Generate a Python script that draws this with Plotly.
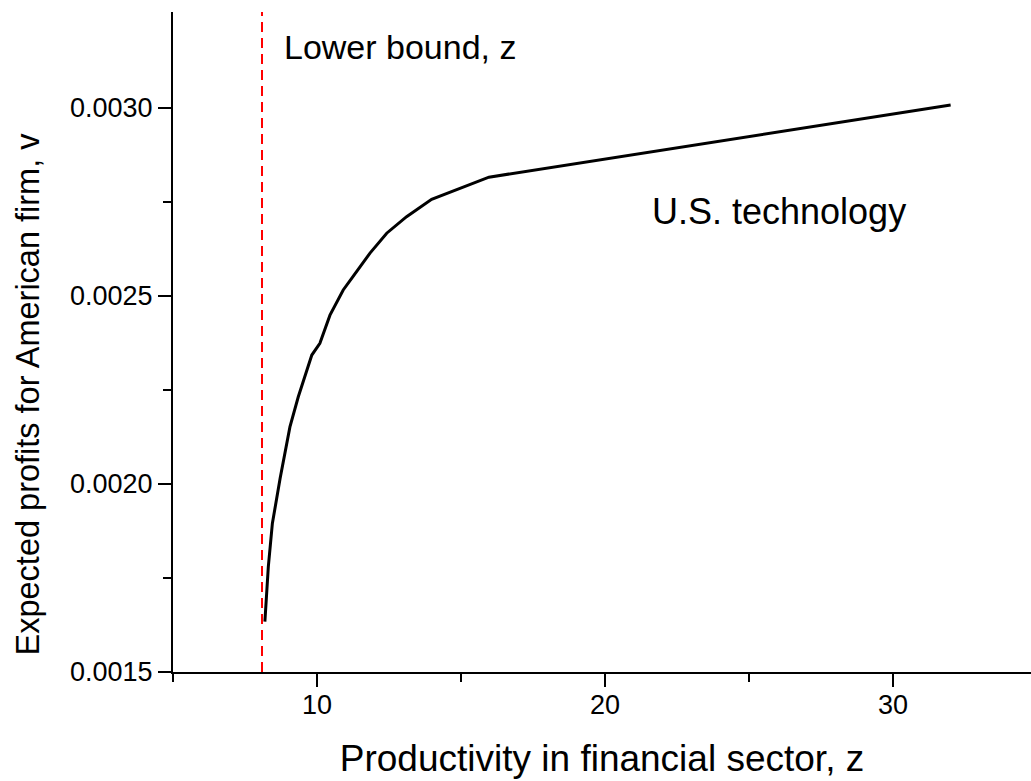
import plotly.graph_objects as go

# Data
z_values = [8.19, 8.31, 8.45, 8.72, 9.06, 9.35, 9.82, 10.10, 10.45, 10.91, 11.26,
            11.84, 12.42, 13.11, 13.98, 15.97, 32.0]
v_values = [0.001634, 0.001780, 0.001895, 0.002015, 0.002152, 0.002232, 0.002343,
            0.002374, 0.002449, 0.002516, 0.002553, 0.002614, 0.002667, 0.002711,
            0.002757, 0.002816, 0.003008]
lower_bound_z = 8.09

x_range = [5, 34.79]
y_range = [0.0015, 0.0032553]
x_tickvals = [10, 20, 30]
x_minor_ticks = [5, 15, 25]
y_tickvals = [0.0015, 0.0020, 0.0025, 0.0030]
y_ticktext = ["0.0015", "0.0020", "0.0025", "0.0030"]
y_minor_ticks = [0.00175, 0.00225, 0.00275]

font_family = "Liberation Sans, Arial, sans-serif"

fig = go.Figure()

fig.add_trace(go.Scatter(
    x=[lower_bound_z, lower_bound_z], y=y_range, mode="lines",
    line=dict(color="#ff0000", width=2, dash="10px,6px"),
    showlegend=False, hoverinfo="skip"))

fig.add_trace(go.Scatter(
    x=z_values, y=v_values, mode="lines",
    line=dict(color="black", width=3),
    showlegend=False))

fig.add_annotation(x=8.79, y=0.003162, text="Lower bound, z", showarrow=False,
                   xanchor="left", yanchor="middle",
                   font=dict(family=font_family, size=34, color="black"))
fig.add_annotation(x=21.55, y=0.002726, text="U.S. technology", showarrow=False,
                   xanchor="left", yanchor="middle",
                   font=dict(family=font_family, size=36, color="black"))

# y-axis title (placed slightly below the axis centre, as in the reference)
fig.add_annotation(xref="paper", yref="paper", x=-0.169, y=0.422,
                   text="Expected profits for American firm, v", showarrow=False,
                   textangle=-90, xanchor="center", yanchor="middle",
                   font=dict(family=font_family, size=32.5, color="black"))

fig.update_layout(
    width=1031, height=781,
    margin=dict(l=173, r=0, t=12, b=109),
    paper_bgcolor="white", plot_bgcolor="white",
    xaxis=dict(
        range=x_range, tickvals=x_tickvals, ticks="outside", ticklen=13, tickwidth=2,
        tickcolor="black", showline=True, linecolor="black", linewidth=2,
        showgrid=False, zeroline=False, automargin=False,
        ticklabelstandoff=-5,
        minor=dict(tickvals=x_minor_ticks, ticks="outside", ticklen=8, tickwidth=2,
                   tickcolor="black", showgrid=False),
        tickfont=dict(family=font_family, size=27, color="black"),
        title=dict(text="Productivity in financial sector, z",
                   font=dict(family=font_family, size=37, color="black"), standoff=26),
    ),
    yaxis=dict(
        range=y_range, tickvals=y_tickvals, ticktext=y_ticktext, ticks="outside",
        ticklen=13, tickwidth=2, tickcolor="black", showline=True, linecolor="black",
        linewidth=2, showgrid=False, zeroline=False, automargin=False,
        minor=dict(tickvals=y_minor_ticks, ticks="outside", ticklen=8,
                   tickwidth=2, tickcolor="black", showgrid=False),
        tickfont=dict(family=font_family, size=27, color="black"),
    ),
)

fig.write_html(
    "out.html",
    config={"displayModeBar": False},
    post_script="document.body.style.margin='0';document.body.style.overflow='hidden';",
)
